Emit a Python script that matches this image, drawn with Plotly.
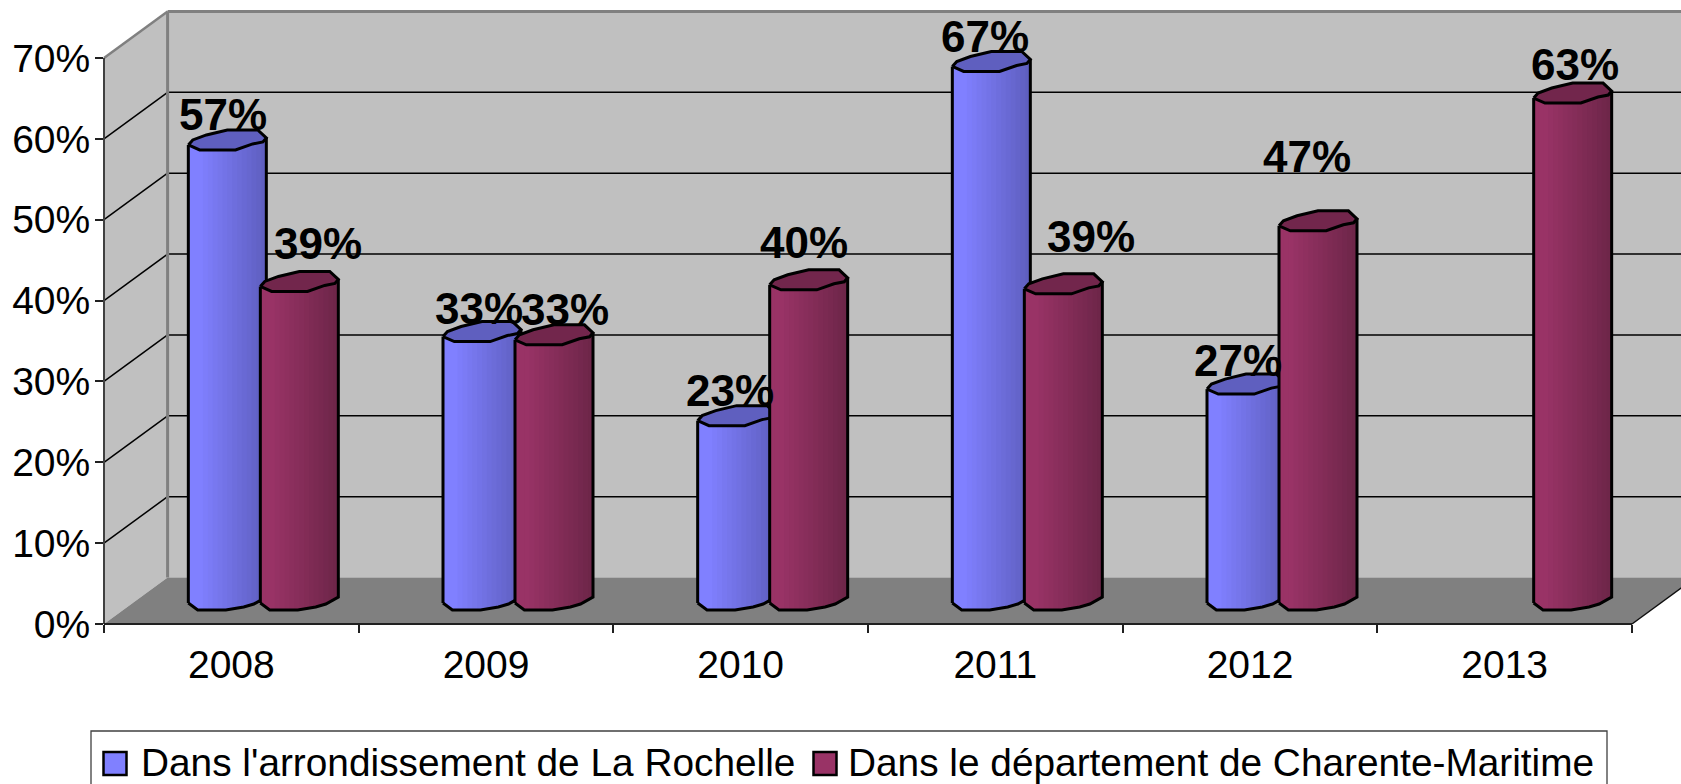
import plotly.graph_objects as go

years = [2008, 2009, 2010, 2011, 2012, 2013]
series_names = ["Dans l'arrondissement de La Rochelle", "Dans le département de Charente-Maritime"]
arrondissement = [56.9, 33.2, 22.8, 66.6, 26.7, None]
departement = [39.4, 32.8, 39.6, 39.1, 46.9, 62.7]
y_ticks = [0, 10, 20, 30, 40, 50, 60, 70]

# label nudges in pixels (manual placement in the original)
label_dx = [[-4, -3, -7, -6, -8, 0], [19, 11, -5, 28, -11, 2]]
label_dy = [[49, 47.5, 49.6, 49, 48, 0], [62, 49, 61, 71, 88, 53]]

W, H = 1681, 784
L, R, T, B = 104, 1632, 58, 624   # T = height of the 70% tick
PT = 30                           # top of the plot area, leaves room for the caps
PX_X = (R - L) / 6
PX_Y = (B - T) / 70
Y_TOP = (B - PT) / PX_Y
FONT = "Liberation Sans"
FS = 39

def xp(px): return (px - L) / (R - L)
def yp(py): return (B - py) / (B - PT)
def path(pts):
    return "M" + " L".join(f"{xp(a):.5f},{yp(b):.5f}" for a, b in pts) + " Z"

# cylinder outline profiles: (u across the width, pixels above the value / above zero)
cap_front = [(0, 19), (.145, 14), (.605, 14), (.825, 20), (.956, 22), (1, 26)]
cap_back = [(0, 19), (.057, 24), (.232, 29), (.5, 34), (.89, 34), (1, 26)]
foot = [(0, 21), (.12, 14), (.48, 14), (.71, 17), (.84, 20), (1, 27)]

def interp(prof, u):
    for (a, b), (c, d) in zip(prof, prof[1:]):
        if a <= u <= c:
            return b + (d - b) * (u - a) / (c - a)
    return prof[-1][1]

BAR_W = 78 / PX_X
OFFS = [-43 / PX_X, 29 / PX_X]
N = 16
COL = [((128, 128, 255), (94, 94, 190)), ((153, 51, 102), (108, 37, 72))]
CAP = ["#5F5FBF", "#72264C"]

fig = go.Figure()
for s, vals in enumerate([arrondissement, departement]):
    xs = [y for y, v in zip(years, vals) if v is not None]
    vs = [v for v in vals if v is not None]
    c0, c1 = COL[s]
    for i in range(N):
        u = (i + .5) / N
        t = min(1, max(0, (u - .15) / .85))
        col = tuple(round(a + (b - a) * t) for a, b in zip(c0, c1))
        base = [interp(foot, u) / PX_Y] * len(vs)
        top = [v + interp(cap_front, u) / PX_Y for v in vs]
        fig.add_trace(go.Bar(
            x=xs, y=[a - b for a, b in zip(top, base)], base=base,
            offset=OFFS[s] + i / N * BAR_W,
            width=BAR_W / N * (1.2 if i < N - 1 else 1),
            marker=dict(color="rgb(%d,%d,%d)" % col, line=dict(width=0)),
            showlegend=False, hoverinfo="skip", cliponaxis=False, zorder=s + 1))
    ox, oy, cx, cy = [], [], [], []
    for x, v in zip(xs, vs):
        x0 = x + OFFS[s]
        for u, d in foot:
            ox.append(x0 + u * BAR_W); oy.append(d / PX_Y)
        ox += [x0 + BAR_W, None, x0, x0, None]
        oy += [v + 26 / PX_Y, None, 21 / PX_Y, v + 19 / PX_Y, None]
        for u, d in cap_front + cap_back[::-1][1:]:
            cx.append(x0 + u * BAR_W); cy.append(v + d / PX_Y)
        cx.append(None); cy.append(None)
    fig.add_trace(go.Scatter(x=ox, y=oy, mode="lines", line=dict(color="black", width=3),
                             showlegend=False, hoverinfo="skip", cliponaxis=False, zorder=s + 1))
    fig.add_trace(go.Scatter(x=cx, y=cy, mode="lines", fill="toself", fillcolor=CAP[s],
                             line=dict(color="black", width=3),
                             showlegend=False, hoverinfo="skip", cliponaxis=False, zorder=s + 1))

# walls and floor
WD, HD = 63.6, 46.5
shapes = [
    dict(type="path", path=path([(L + WD, T - HD), (W + 5, T - HD), (W + 5, B - HD), (L + WD, B - HD)]),
         fillcolor="#C0C0C0", line=dict(width=0)),
    dict(type="path", path=path([(L, T), (L + WD, T - HD), (L + WD, B - HD), (L, B)]),
         fillcolor="#C0C0C0", line=dict(width=0)),
    dict(type="path", path=path([(L, B), (L + WD, B - HD), (W + 5, B - HD), (W + 5, B - (W + 5 - R) * HD / WD), (R, B)]),
         fillcolor="#808080", line=dict(width=0)),
]
def seg(x0, y0, x1, y1, color="black", width=1.5):
    return dict(type="line", xref="paper", yref="paper", x0=xp(x0), y0=yp(y0), x1=xp(x1), y1=yp(y1),
                line=dict(color=color, width=width))
for t in y_ticks[1:-1]:
    py = B - t * PX_Y
    shapes.append(seg(L, py, L + WD, py - HD))
    shapes.append(seg(L + WD, py - HD, W + 5, py - HD))
shapes += [
    seg(L, T, L + WD, T - HD, "#808080", 2.5),
    seg(L + WD, T - HD, L + WD, B - HD, "#808080", 3),
    seg(L + WD, T - HD, W + 5, T - HD, "#808080", 3),
    seg(L, T, L, B, "#404040", 2),
    seg(L, B, R, B, "#202020", 2),
    seg(R, B, W + 5, B - (W + 5 - R) * HD / WD, "#101010", 1.5),
]
for s in shapes:
    s.update(xref="paper", yref="paper", layer="below")

# legend box and swatches
legend_shapes = [
    dict(type="rect", xref="paper", yref="paper", x0=xp(91), x1=xp(1607), y0=yp(795), y1=yp(731),
         line=dict(color="#404040", width=1.3), fillcolor="white"),
    dict(type="rect", xref="paper", yref="paper", x0=xp(103.5), x1=xp(126.5), y0=yp(775), y1=yp(752),
         line=dict(color="black", width=2.5), fillcolor="#8080FF"),
    dict(type="rect", xref="paper", yref="paper", x0=xp(813.5), x1=xp(836.5), y0=yp(775), y1=yp(752),
         line=dict(color="black", width=2.5), fillcolor="#993366"),
]
annotations = []
for s, vals in enumerate([arrondissement, departement]):
    cen = (OFFS[s] + BAR_W / 2)
    for i, (y, v) in enumerate(zip(years, vals)):
        if v is None:
            continue
        annotations.append(dict(x=y + cen, y=v, xref="x", yref="y", text=f"<b>{round(v)}%</b>",
                                showarrow=False, xanchor="center", yanchor="middle",
                                xshift=label_dx[s][i], yshift=label_dy[s][i],
                                font=dict(family=FONT, size=44, color="black")))
for name, px in zip(series_names, [139, 846]):
    annotations.append(dict(x=xp(px), y=yp(762), xref="paper", yref="paper", text=name, showarrow=False,
                            xanchor="left", yanchor="middle", font=dict(family=FONT, size=38.8, color="black")))

fig.update_layout(
    width=W, height=H, margin=dict(l=L, r=W - R, t=PT, b=H - B, pad=0, autoexpand=False),
    paper_bgcolor="white", plot_bgcolor="rgba(0,0,0,0)", barmode="overlay", showlegend=False,
    shapes=shapes + legend_shapes, annotations=annotations,
    font=dict(family=FONT, size=FS, color="black"),
    xaxis=dict(range=[years[0] - .5, years[-1] + .5], tickmode="array", tickvals=years,
               ticktext=[str(y) for y in years], ticks="", showgrid=False, zeroline=False, showline=False,
               ticklabelstandoff=14,
               minor=dict(tickmode="array", tickvals=[y - .5 for y in years] + [years[-1] + .5],
                          ticks="outside", ticklen=8, tickwidth=1.5, tickcolor="#202020", showgrid=False)),
    yaxis=dict(range=[0, Y_TOP], tickmode="array", tickvals=y_ticks, ticktext=[f"{t}%" for t in y_ticks],
               ticks="outside", ticklen=8, tickwidth=1.5, tickcolor="#202020", showgrid=False,
               zeroline=False, showline=False, ticklabelstandoff=-3),
)

fig.write_html("out.html", config=dict(displayModeBar=False),
               post_script="document.body.style.margin='0';document.body.style.overflow='hidden';")
